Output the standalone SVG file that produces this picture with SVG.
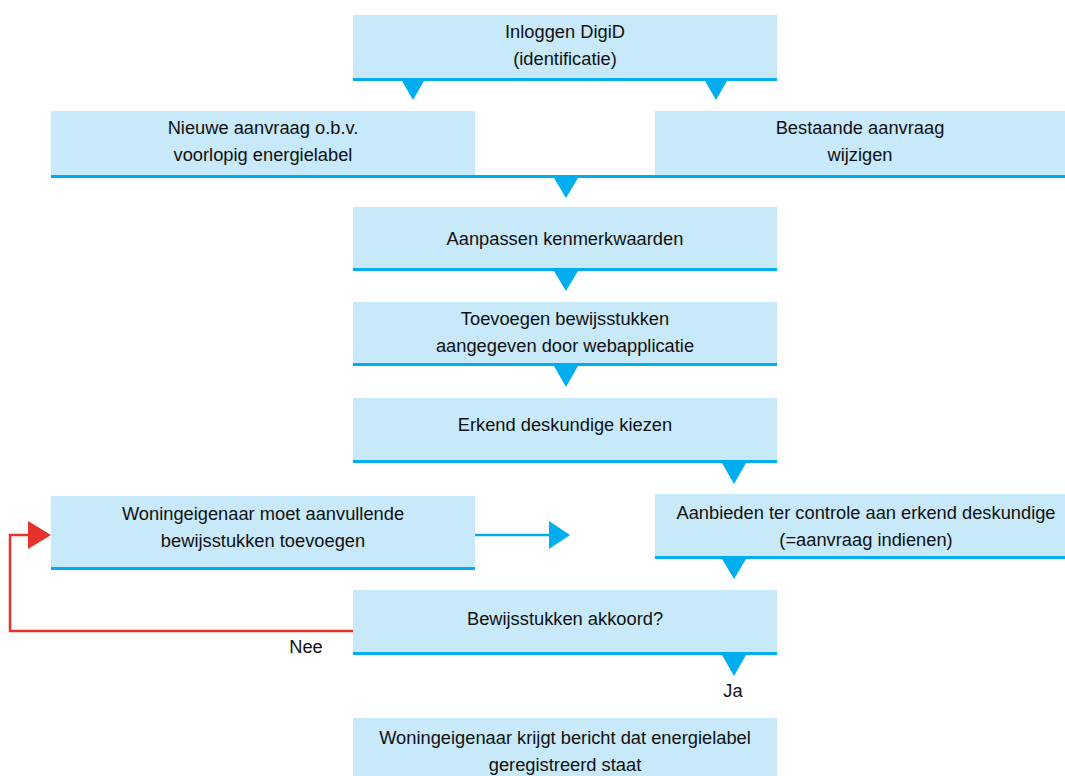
<svg xmlns="http://www.w3.org/2000/svg" width="1065" height="776" viewBox="0 0 1065 776">
<style>
.box{fill:#c7e9f9}
.ln{fill:#00aeef}
.tri{fill:#00aeef}
text{font-family:"Liberation Sans","Open Sans",sans-serif;font-size:18.3px;fill:#111;text-anchor:middle}
</style>
<rect width="1065" height="776" fill="#fff"/>
<g id="n1">
<rect class="box" x="353" y="15" width="424" height="64"/>
<rect class="ln" x="353" y="78" width="424" height="3"/>
<text x="565" y="38">Inloggen DigiD</text>
<text x="565" y="65">(identificatie)</text>
</g>
<g id="n2">
<rect class="box" x="51" y="111" width="424" height="65"/>
<text x="263" y="134">Nieuwe aanvraag o.b.v.</text>
<text x="263" y="161">voorlopig energielabel</text>
</g>
<g id="n3">
<rect class="box" x="655" y="111" width="410" height="65"/>
<text x="860" y="134">Bestaande aanvraag</text>
<text x="860" y="161">wijzigen</text>
</g>
<g id="n4">
<rect class="box" x="353" y="207" width="424" height="62"/>
<rect class="ln" x="353" y="268" width="424" height="3"/>
<text x="565" y="245">Aanpassen kenmerkwaarden</text>
</g>
<g id="n5">
<rect class="box" x="353" y="302" width="424" height="62"/>
<rect class="ln" x="353" y="363" width="424" height="3"/>
<text x="565" y="325">Toevoegen bewijsstukken</text>
<text x="565" y="352">aangegeven door webapplicatie</text>
</g>
<g id="n6">
<rect class="box" x="353" y="398" width="424" height="63"/>
<rect class="ln" x="353" y="460" width="424" height="3"/>
<text x="565" y="431">Erkend deskundige kiezen</text>
</g>
<g id="n7">
<rect class="box" x="51" y="496" width="424" height="72"/>
<rect class="ln" x="51" y="567" width="424" height="3"/>
<text x="263" y="520">Woningeigenaar moet aanvullende</text>
<text x="263" y="547">bewijsstukken toevoegen</text>
</g>
<g id="n8">
<rect class="box" x="655" y="494" width="410" height="63"/>
<rect class="ln" x="655" y="556" width="410" height="3"/>
<text x="866" y="519">Aanbieden ter controle aan erkend deskundige</text>
<text x="866" y="546">(=aanvraag indienen)</text>
</g>
<g id="n9">
<rect class="box" x="353" y="590" width="424" height="63"/>
<rect class="ln" x="353" y="652" width="424" height="3"/>
<text x="565" y="625">Bewijsstukken akkoord?</text>
</g>
<g id="n10">
<rect class="box" x="353" y="718" width="424" height="58"/>
<text x="565" y="744">Woningeigenaar krijgt bericht dat energielabel</text>
<text x="565" y="771">geregistreerd staat</text>
</g>
<g id="connectors">
<rect class="ln" x="51" y="175" width="1014" height="3"/>
<polygon class="tri" points="402,81 424,81 413,100"/>
<polygon class="tri" points="705,81 727,81 716,100"/>
<polygon class="tri" points="554,178 578,178 566,198"/>
<polygon class="tri" points="554,271 578,271 566,291"/>
<polygon class="tri" points="554,366 578,366 566,387"/>
<polygon class="tri" points="722,463 746,463 734,484"/>
<polygon class="tri" points="722,559 746,559 734,579"/>
<polygon class="tri" points="722,655 746,655 734,676"/>
<line x1="475" y1="535" x2="552" y2="535" stroke="#00aeef" stroke-width="2.5"/>
<polygon class="tri" points="549,521 570,535 549,549"/>
<polyline points="353,631 10,631 10,535 30,535" fill="none" stroke="#e8312a" stroke-width="2.5"/>
<polygon points="28,521 51,535 28,549" fill="#e8312a"/>
<text x="306" y="653">Nee</text>
<text x="733" y="697">Ja</text>
</g>
</svg>
